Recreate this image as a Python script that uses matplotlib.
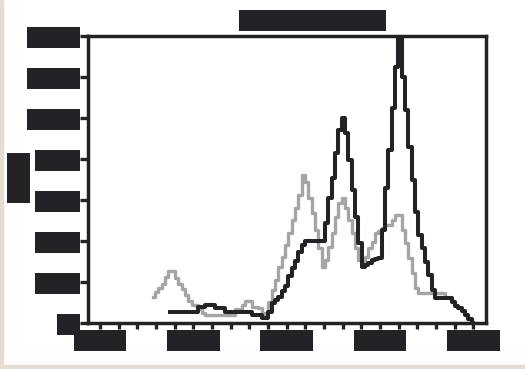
import numpy as np
import matplotlib
matplotlib.use("Agg")
import matplotlib.pyplot as plt
from matplotlib.patches import Rectangle

# histogram channels, 28 per decade of intensity
per_decade = 28

gray_first = 16
gray_counts = [
    12.7, 15.0, 17.0, 19.0, 22.7, 25.6, 25.6, 22.2, 19.3, 16.5,
    13.8, 10.9, 8.9, 8.9, 6.8, 4.9, 3.9, 3.9, 3.9, 3.9,
    3.9, 3.9, 3.9, 3.9, 3.9, 7.0, 7.0, 8.9, 11.0, 11.0,
    8.1, 8.1, 7.3, 4.9, 3.5, 10.5, 16.2, 21.1, 27.6, 32.4,
    38.1, 43.8, 50.3, 56.0, 62.5, 72.2, 68.9, 60.8, 53.5, 45.4,
    36.5, 27.6, 30.8, 37.3, 43.8, 51.9, 58.4, 61.0, 56.0, 50.3,
    43.8, 36.5, 30.8, 29.2, 32.4, 36.5, 39.7, 43.8, 45.0, 46.5,
    47.9, 47.9, 50.3, 52.7, 52.7, 45.4, 38.9, 31.6, 24.3, 17.0,
    14.9, 14.6, 14.6, 14.6, 14.6, 14.6, 14.6, 14.6, 13.0, 12.2,
    10.5, 8.4, 7.5, 6.0, 4.1, 2.1, 0.0,
]

black_first = 21
black_counts = [
    5.7, 5.7, 5.7, 5.7, 5.7, 5.7, 5.7, 5.7, 5.7, 7.8,
    7.8, 8.9, 8.9, 8.9, 7.3, 7.3, 7.3, 5.7, 5.7, 5.7,
    5.7, 5.7, 5.7, 5.7, 5.7, 4.1, 4.1, 4.1, 2.4, 2.4,
    5.7, 9.7, 11.5, 13.0, 15.5, 18.0, 23.0, 27.0, 30.5, 34.5,
    38.0, 40.2, 40.2, 40.2, 40.2, 40.2, 40.2, 48.7, 60.8, 70.6,
    82.7, 94.1, 99.8, 92.5, 79.5, 64.9, 51.9, 38.9, 27.6, 28.4,
    29.2, 30.8, 31.1, 31.6, 45.4, 65.7, 84.4, 104.6, 124.9, 139.2,
    120.1, 103.8, 86.0, 69.8, 54.3, 43.0, 36.5, 30.0, 23.5, 16.2,
    12.2, 12.2, 12.2, 12.2, 12.2, 10.5, 8.4, 7.5, 6.0, 4.1,
    2.1, 0.0,
]

y_ticks = [0, 20, 40, 60, 80, 100, 120, 140]
x_ticks = [0, 1, 2, 3, 4]
x_ticklabels = ["10⁰", "10¹", "10²", "10³", "10⁴"]
title_text = "Viability Overlay"
ylabel_text = "Count"

ink = "#222227"
mono = "DejaVu Sans Mono"

fig = plt.figure(figsize=(5.25, 3.69), dpi=100)
fig.patch.set_facecolor("white")
# beige scan edges
fig.add_artist(Rectangle((0, 0), 3 / 525, 1, transform=fig.transFigure,
                         color="#e6ddd2", zorder=0))
fig.add_artist(Rectangle((0, 0), 1, 4 / 369, transform=fig.transFigure,
                         color="#e6ddd2", zorder=0))

ax = fig.add_axes([88 / 525, 1 - 323.3 / 369, 398 / 525, 287.6 / 369])

gx = (gray_first + np.arange(len(gray_counts))) / per_decade
bx = (black_first + np.arange(len(black_counts))) / per_decade
ax.plot(gx, gray_counts, drawstyle="steps-mid", color="#a5a5a8", lw=2.4)
ax.plot(bx, black_counts, drawstyle="steps-mid", color=ink, lw=2.9)

ax.set_xlim(-3.6 / per_decade, 115.8 / per_decade)
ax.set_ylim(0, 140)

for s in ax.spines.values():
    s.set_linewidth(2.5)
    s.set_color(ink)

ax.set_yticks(y_ticks)
widths = {1: 2, 2: 5, 3: 6}
ax.set_yticklabels([str(v).rjust(widths[len(str(v))]) for v in y_ticks])
ax.set_xticks(x_ticks)
ax.set_xticklabels([t.rjust(6) for t in x_ticklabels])
ax.set_xticks(np.arange(0, 4.01, 0.2), minor=True)

ax.tick_params(axis="y", length=5.8, width=2.4, color=ink, pad=3.0,
               labelsize=8.86, direction="out")
ax.tick_params(axis="x", which="both", length=4.5, width=2.4, color=ink,
               pad=3.0, labelsize=8.86, direction="out")

for lab in ax.get_yticklabels() + ax.get_xticklabels():
    lab.set_fontfamily(mono)
    lab.set_color(ink)
    lab.set_bbox(dict(facecolor=ink, edgecolor="none", pad=3.0))

fig.text(312.5 / 525, 1 - 20.5 / 369, title_text, ha="center", va="center",
         fontfamily=mono, fontsize=9.7, color=ink,
         bbox=dict(facecolor=ink, edgecolor="none", pad=3.2))
fig.text(18.5 / 525, 1 - 178 / 369, ylabel_text, rotation=90, ha="center",
         va="center", fontfamily=mono, fontsize=9.36, color=ink,
         bbox=dict(facecolor=ink, edgecolor="none", pad=3.6))

fig.savefig("out.png", dpi=100)
